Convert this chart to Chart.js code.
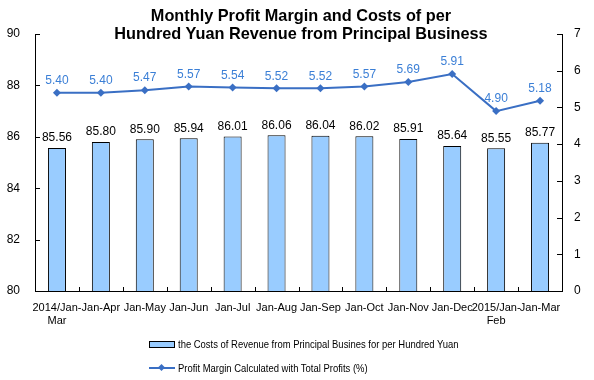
<!DOCTYPE html>
<html>
<head>
<meta charset="utf-8">
<script src="https://cdn.jsdelivr.net/npm/chart.js@4/dist/chart.umd.min.js"></script>
<style>
  html, body { margin: 0; padding: 0; background: #fff; }
  #wrap { position: relative; width: 594px; height: 380px; font-family: "Liberation Sans", Arial, sans-serif; }
  #c { position: absolute; left: 0; top: 0; }
  #title { position: absolute; left: 0; top: 6px; width: 602px; text-align: center; font-weight: bold; font-size: 16.3px; line-height: 18px; color: #000; }
  .leg { position: absolute; left: 149px; font-size: 11px; color: #000; display: flex; align-items: center; white-space: nowrap; }
  .leg span { display: inline-block; transform: scaleX(0.86); transform-origin: left center; }
  .box { width: 24px; height: 5px; background: #99ccff; border: 1px solid #000; margin-right: 3px; }
  .ln { position: relative; width: 26px; height: 2px; background: #3a6fc4; margin-right: 3px; }
  .ln::after { content: ""; position: absolute; left: 10px; top: -2px; width: 5px; height: 5px; background: #3a6fc4; transform: rotate(45deg); }
</style>
</head>
<body>
<div id="wrap">
  <canvas id="c" width="594" height="380"></canvas>
  <div id="title">Monthly Profit Margin and Costs of per<br>Hundred Yuan Revenue from Principal Business</div>
  <div class="leg" style="top:338px;"><div class="box"></div><span>the Costs of Revenue from Principal Busines for per Hundred Yuan</span></div>
  <div class="leg" style="top:362px;"><div class="ln"></div><span>Profit Margin Calculated with Total Profits (%)</span></div>
</div>
<script>
const categories = [
  ['2014/Jan-', 'Mar'], 'Jan-Apr', 'Jan-May', 'Jan-Jun', 'Jan-Jul', 'Jan-Aug',
  'Jan-Sep', 'Jan-Oct', 'Jan-Nov', 'Jan-Dec', ['2015/Jan-', 'Feb'], 'Jan-Mar'
];
const costsPerHundred = [85.56, 85.80, 85.90, 85.94, 86.01, 86.06, 86.04, 86.02, 85.91, 85.64, 85.55, 85.77];
const profitMargin = [5.40, 5.40, 5.47, 5.57, 5.54, 5.52, 5.52, 5.57, 5.69, 5.91, 4.90, 5.18];
const leftTicks = [80, 82, 84, 86, 88, 90];
const rightTicks = [0, 1, 2, 3, 4, 5, 6, 7];

const FONT = '"Liberation Sans", Arial, sans-serif';
const LINE_COLOR = '#3a6fc4';
const LABEL_BLUE = '#3b7fd6';

const innerTicks = {
  id: 'innerTicks',
  afterDatasetsDraw(chart) {
    const ctx = chart.ctx;
    const x = chart.scales.x, yl = chart.scales.y, yr = chart.scales.y1;
    const a = chart.chartArea;
    ctx.save();
    ctx.strokeStyle = '#000';
    ctx.lineWidth = 1;
    ctx.beginPath();
    leftTicks.forEach(v => {
      const py = Math.round(yl.getPixelForValue(v)) + 0.5;
      ctx.moveTo(a.left, py); ctx.lineTo(a.left + 5, py);
    });
    rightTicks.forEach(v => {
      const py = Math.round(yr.getPixelForValue(v)) + 0.5;
      ctx.moveTo(a.right, py); ctx.lineTo(a.right - 5, py);
    });
    for (let i = 1; i < categories.length; i++) {
      const px = Math.round((x.getPixelForValue(i - 1) + x.getPixelForValue(i)) / 2) + 0.5;
      ctx.moveTo(px, a.bottom); ctx.lineTo(px, a.bottom - 4);
    }
    ctx.stroke();
    ctx.restore();
  }
};

const valueLabels = {
  id: 'valueLabels',
  afterDatasetsDraw(chart) {
    const ctx = chart.ctx;
    ctx.save();
    ctx.font = '12px ' + FONT;
    ctx.textAlign = 'center';
    ctx.textBaseline = 'bottom';
    const bars = chart.getDatasetMeta(0).data;
    ctx.fillStyle = '#000';
    bars.forEach((b, i) => ctx.fillText(costsPerHundred[i].toFixed(2), b.x, b.y - 4));
    const pts = chart.getDatasetMeta(1).data;
    ctx.fillStyle = LABEL_BLUE;
    pts.forEach((p, i) => ctx.fillText(profitMargin[i].toFixed(2), p.x, p.y - 6));
    ctx.restore();
  }
};

new Chart(document.getElementById('c'), {
  data: {
    labels: categories,
    datasets: [
      {
        type: 'bar',
        label: 'the Costs of Revenue from Principal Busines for per Hundred Yuan',
        data: costsPerHundred,
        yAxisID: 'y',
        backgroundColor: '#99ccff',
        borderColor: '#000',
        borderWidth: 1,
        borderSkipped: 'bottom',
        categoryPercentage: 1,
        barPercentage: 0.41,
        order: 2
      },
      {
        type: 'line',
        label: 'Profit Margin Calculated with Total Profits (%)',
        data: profitMargin,
        yAxisID: 'y1',
        borderColor: LINE_COLOR,
        backgroundColor: LINE_COLOR,
        borderWidth: 2,
        pointStyle: 'rectRot',
        pointRadius: 4,
        pointBorderWidth: 0,
        tension: 0,
        order: 1
      }
    ]
  },
  options: {
    responsive: false,
    animation: false,
    events: [],
    layout: { padding: { top: 34, left: 0, right: 0, bottom: 0 } },
    plugins: {
      legend: { display: false },
      title: { display: false },
      tooltip: { enabled: false }
    },
    scales: {
      x: {
        offset: true,
        grid: { display: true, drawOnChartArea: false, drawTicks: false },
        border: { display: true, color: '#000', width: 1 },
        ticks: { color: '#000', font: { family: FONT, size: 11 }, padding: 10, maxRotation: 0, autoSkip: false },
        afterFit(s) { s.height = 89; }
      },
      y: {
        position: 'left',
        min: 80, max: 90,
        afterBuildTicks(s) { s.ticks = leftTicks.map(v => ({ value: v })); },
        grid: { display: true, drawOnChartArea: false, drawTicks: false },
        border: { display: true, color: '#000', width: 1 },
        ticks: { color: '#000', font: { family: FONT, size: 12 }, padding: 15 },
        afterFit(s) { s.width = 35; }
      },
      y1: {
        position: 'right',
        min: 0, max: 7,
        afterBuildTicks(s) { s.ticks = rightTicks.map(v => ({ value: v })); },
        grid: { display: true, drawOnChartArea: false, drawTicks: false },
        border: { display: true, color: '#000', width: 1 },
        ticks: { color: '#000', font: { family: FONT, size: 12 }, padding: 12 },
        afterFit(s) { s.width = 32; }
      }
    }
  },
  plugins: [innerTicks, valueLabels]
});
</script>
</body>
</html>
